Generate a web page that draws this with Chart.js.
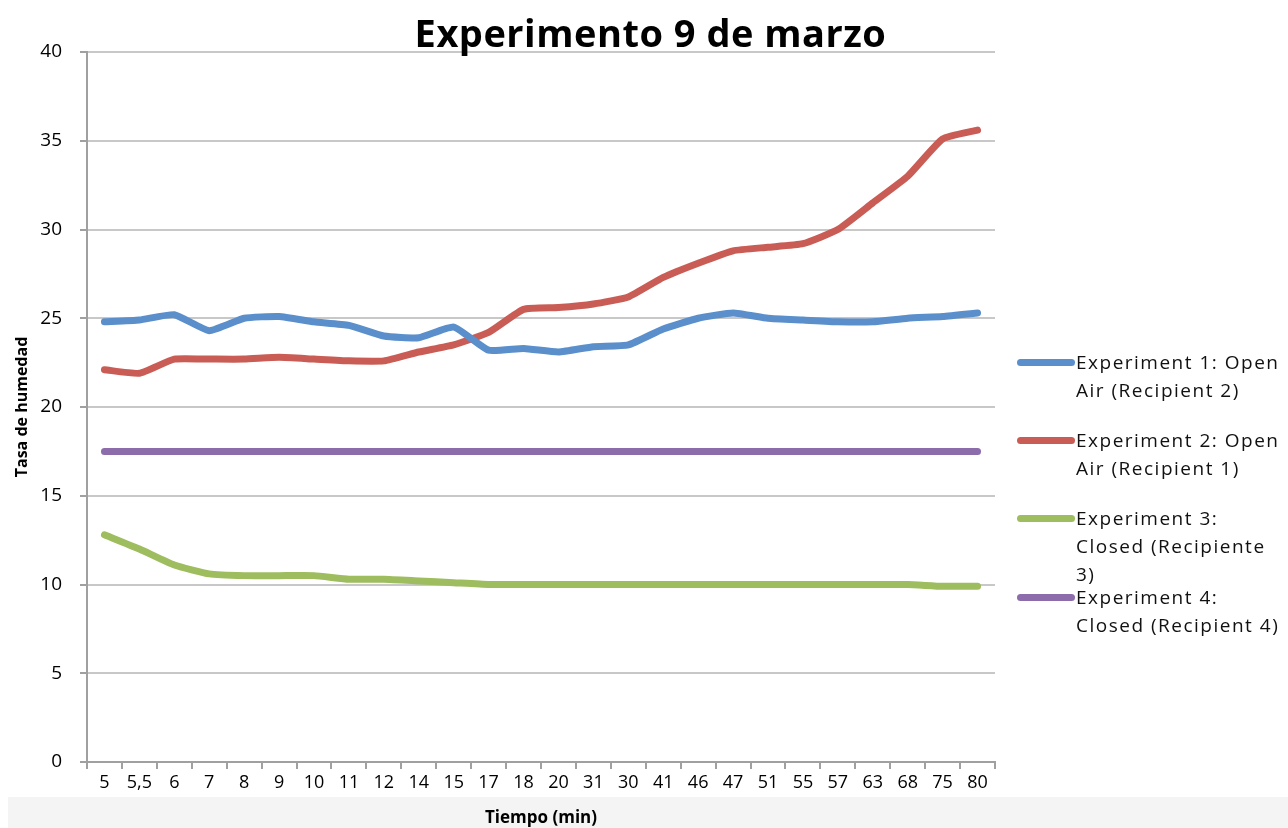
<!DOCTYPE html>
<html>
<head>
<meta charset="utf-8">
<script src="https://cdn.jsdelivr.net/npm/chart.js@4/dist/chart.umd.min.js"></script>
<style>
  html, body { margin: 0; padding: 0; background: #fff; overflow: hidden; }
  #wrap { position: relative; width: 1288px; height: 828px; }
  #band { position: absolute; left: 8px; top: 797px; right: 0; bottom: 0; background: #f4f4f4; }
  #chart { position: absolute; left: 0; top: 0; }
  #title {
    position: absolute; left: 0; width: 1301px; top: 6px; text-align: center;
    font: bold 38px "Open Sans", sans-serif; letter-spacing: 0.5px; color: #000;
  }
  #legend { position: absolute; left: 1017px; top: 348px; font: 19px "Open Sans", sans-serif; letter-spacing: 1.5px; color: #111; white-space: nowrap; }
  .item { position: absolute; left: 0; }
  .swatch { position: absolute; left: 0; width: 58px; height: 7px; border-radius: 4px; }
  .txt { position: absolute; left: 59px; line-height: 28px; }
</style>
</head>
<body>
<div id="wrap">
  <div id="band"></div>
  <canvas id="chart" width="1288" height="828"></canvas>
  <div id="title">Experimento 9 de marzo</div>
  <div id="legend"></div>
</div>
<script>
const categories = ["5", "5,5", "6", "7", "8", "9", "10", "11", "12", "14", "15", "17", "18",
  "20", "31", "30", "41", "46", "47", "51", "55", "57", "63", "68", "75", "80"];

const exp1 = [24.8, 24.9, 25.2, 24.3, 25.0, 25.1, 24.8, 24.6, 24.0, 23.9, 24.5, 23.2, 23.3,
  23.1, 23.4, 23.5, 24.4, 25.0, 25.3, 25.0, 24.9, 24.8, 24.8, 25.0, 25.1, 25.3];
const exp2 = [22.1, 21.9, 22.7, 22.7, 22.7, 22.8, 22.7, 22.6, 22.6, 23.1, 23.5, 24.2, 25.5,
  25.6, 25.8, 26.2, 27.3, 28.1, 28.8, 29.0, 29.2, 30.0, 31.5, 33.0, 35.1, 35.6];
const exp3 = [12.8, 12.0, 11.1, 10.6, 10.5, 10.5, 10.5, 10.3, 10.3, 10.2, 10.1, 10.0, 10.0,
  10.0, 10.0, 10.0, 10.0, 10.0, 10.0, 10.0, 10.0, 10.0, 10.0, 10.0, 9.9, 9.9];
const exp4 = [17.5, 17.5, 17.5, 17.5, 17.5, 17.5, 17.5, 17.5, 17.5, 17.5, 17.5, 17.5, 17.5,
  17.5, 17.5, 17.5, 17.5, 17.5, 17.5, 17.5, 17.5, 17.5, 17.5, 17.5, 17.5, 17.5];

const seriesLabels = [
  ["Experiment 1: Open", "Air (Recipient 2)"],
  ["Experiment 2: Open", "Air (Recipient 1)"],
  ["Experiment 3:", "Closed (Recipiente", "3)"],
  ["Experiment 4:", "Closed (Recipient 4)"],
];
const seriesColors = ["#5a8fcc", "#c95d55", "#9dbd5e", "#8c6cab"];
const legendTops = [0, 78, 156, 235];

const font = "'Open Sans', sans-serif";

const makeSet = (i, data) => ({
  label: seriesLabels[i].join(" "),
  data,
  borderColor: seriesColors[i],
  backgroundColor: seriesColors[i],
  borderWidth: 7,
  pointRadius: 0,
  tension: 0.15,
  borderCapStyle: "round",
  borderJoinStyle: "round",
});

new Chart(document.getElementById("chart"), {
  type: "line",
  data: {
    labels: categories,
    datasets: [makeSet(0, exp1), makeSet(1, exp2), makeSet(2, exp3), makeSet(3, exp4)],
  },
  options: {
    responsive: false,
    animation: false,
    layout: { padding: { top: 52, right: 293, left: 0, bottom: 0 } },
    plugins: { legend: { display: false }, title: { display: false }, tooltip: { enabled: false } },
    scales: {
      x: {
        offset: true,
        grid: { drawOnChartArea: false, drawTicks: true, tickLength: 7, offset: true, color: "#a0a0a0", lineWidth: 2 },
        border: { color: "#a0a0a0", width: 2 },
        ticks: { color: "#000", font: { family: font, size: 18 }, padding: 3, maxRotation: 0, autoSkip: false },
        title: { display: true, text: "Tiempo (min)", color: "#000", font: { family: font, size: 17, weight: "bold" }, padding: { top: 4, bottom: 0 } },
        afterFit: (s) => { s.height = 66; },
      },
      y: {
        min: 0,
        max: 40,
        ticks: { stepSize: 5, color: "#000", font: { family: font, size: 19 }, padding: 18 },
        grid: { color: "#c8c8c8", lineWidth: 2, drawTicks: true, tickLength: 7, tickColor: "#a0a0a0" },
        border: { color: "#a0a0a0", width: 2 },
        title: { display: true, text: "Tasa de humedad", color: "#000", font: { family: font, size: 16, weight: "bold" }, padding: { top: 13, bottom: 0 } },
        afterFit: (s) => { s.width = 87; },
      },
    },
  },
});

const legend = document.getElementById("legend");
seriesLabels.forEach((lines, i) => {
  const item = document.createElement("div");
  item.className = "item";
  item.style.top = legendTops[i] + "px";
  const sw = document.createElement("div");
  sw.className = "swatch";
  sw.style.background = seriesColors[i];
  sw.style.top = "11px";
  const txt = document.createElement("div");
  txt.className = "txt";
  txt.innerHTML = lines.join("<br>");
  item.appendChild(sw);
  item.appendChild(txt);
  legend.appendChild(item);
});
</script>
</body>
</html>
